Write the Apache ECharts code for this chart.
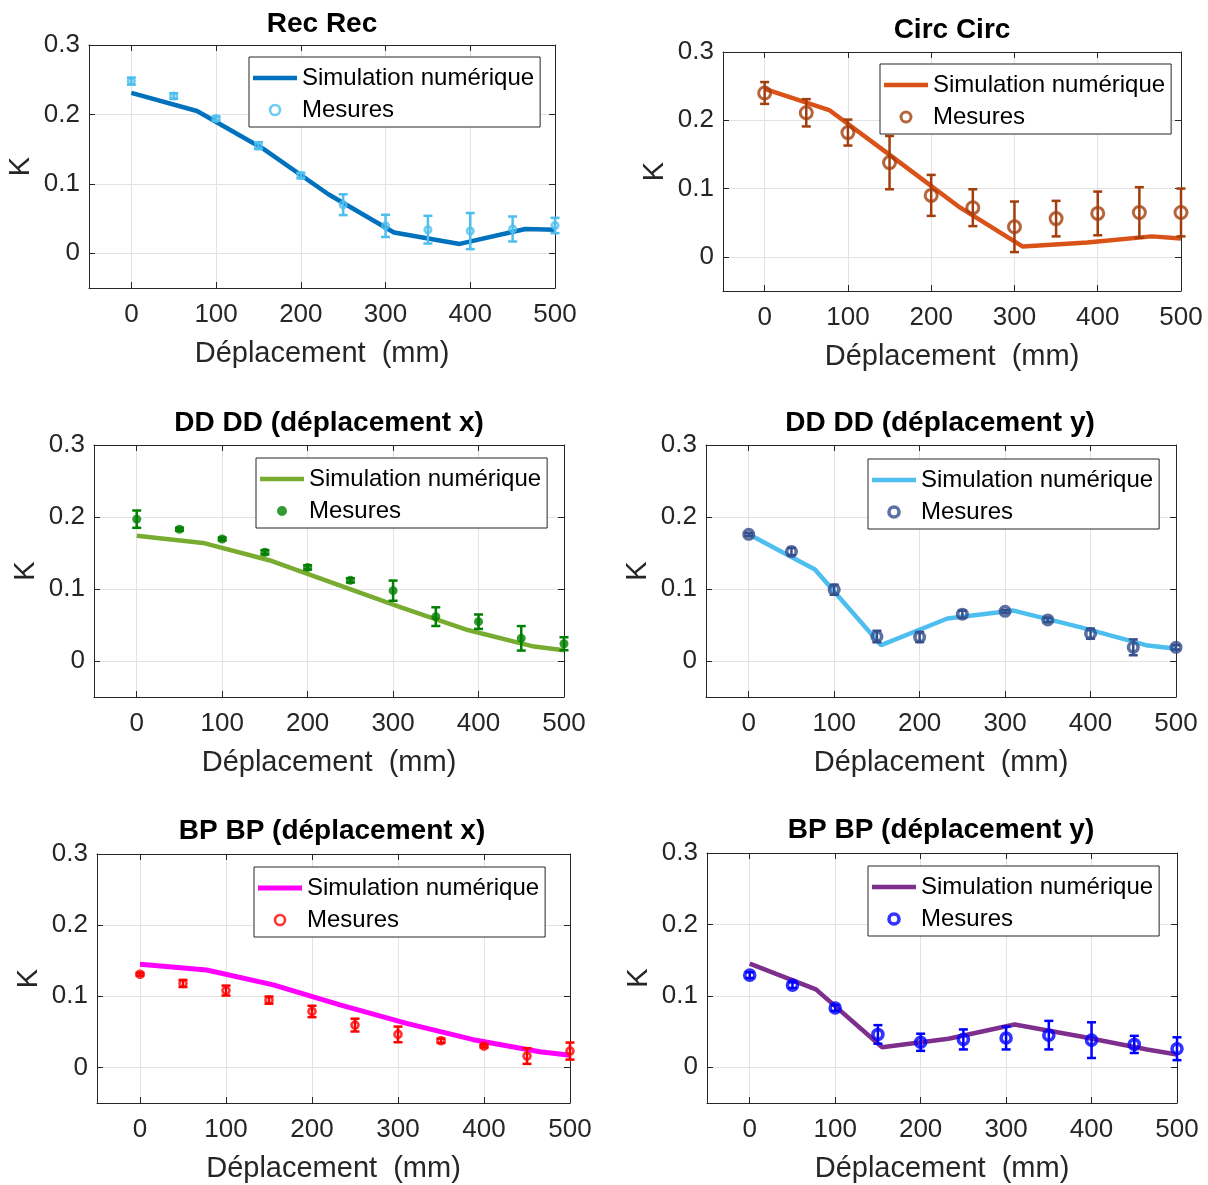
<!DOCTYPE html>
<html>
<head>
<meta charset="utf-8">
<script src="https://cdn.jsdelivr.net/npm/echarts@6/dist/echarts.min.js"></script>
<style>
  html, body { margin: 0; padding: 0; background: #fff; }
  #main { width: 1208px; height: 1185px; }
</style>
</head>
<body>
<div id="main"></div>
<script>
// abscisses communes
var simX = [0, 77.5, 155, 232.5, 310, 387.5, 465, 500]
var mesX = [0, 50, 100, 150, 200, 250, 300, 350, 400, 450, 500]
var xTicks = [0, 100, 200, 300, 400, 500]
var yTicks = [0, 0.1, 0.2, 0.3]

// Rec Rec
var recSim = [0.231, 0.205, 0.151, 0.085, 0.030, 0.0135, 0.035, 0.034]
var recMes = [0.248, 0.2265, 0.194, 0.155, 0.112, 0.070, 0.0395, 0.034, 0.032, 0.035, 0.040]
var recErr = [0.005, 0.004, 0.003, 0.005, 0.004, 0.015, 0.016, 0.020, 0.026, 0.018, 0.011]

// Circ Circ
var circSim = [0.246, 0.215, 0.145, 0.074, 0.015, 0.021, 0.030, 0.027]
var circMes = [0.240, 0.211, 0.182, 0.138, 0.090, 0.072, 0.044, 0.056, 0.0636, 0.065, 0.065]
var circErr = [0.016, 0.020, 0.019, 0.039, 0.030, 0.027, 0.037, 0.026, 0.032, 0.037, 0.035]

// DD DD (déplacement x)
var ddxSim = [0.174, 0.164, 0.140, 0.107, 0.074, 0.043, 0.020, 0.015]
var ddxMes = [0.197, 0.183, 0.1695, 0.151, 0.130, 0.112, 0.0977, 0.0616, 0.0546, 0.0315, 0.024]
var ddxErr = [0.012, 0.002, 0.002, 0.003, 0.003, 0.003, 0.014, 0.013, 0.010, 0.017, 0.009]

// DD DD (déplacement y)
var ddySim = [0.176, 0.127, 0.022, 0.059, 0.070, 0.047, 0.022, 0.017]
var ddyMes = [0.176, 0.152, 0.099, 0.034, 0.0333, 0.065, 0.069, 0.057, 0.038, 0.019, 0.019]
var ddyErr = [0.002, 0.005, 0.007, 0.008, 0.007, 0.005, 0.002, 0.003, 0.007, 0.011, 0.003]

// BP BP (déplacement x)
var bpxSim = [0.145, 0.137, 0.116, 0.088, 0.062, 0.039, 0.022, 0.017]
var bpxMes = [0.131, 0.118, 0.108, 0.0946, 0.0787, 0.0595, 0.0464, 0.0375, 0.030, 0.016, 0.023]
var bpxErr = [0.002, 0.005, 0.007, 0.005, 0.008, 0.009, 0.011, 0.003, 0.002, 0.011, 0.012]

// BP BP (déplacement y)
var bpySim = [0.145, 0.109, 0.028, 0.040, 0.060, 0.043, 0.025, 0.018]
var bpyMes = [0.129, 0.115, 0.083, 0.046, 0.035, 0.039, 0.041, 0.045, 0.038, 0.032, 0.026]
var bpyErr = [0.004, 0.004, 0.004, 0.013, 0.012, 0.014, 0.016, 0.020, 0.025, 0.012, 0.016]

var FONT = 'Liberation Sans, Arial, Helvetica, sans-serif'
var AXC = '#262626'

var panels = [
  { title: 'Rec Rec', sim: recSim, mes: recMes, err: recErr,
    line: '#0072BD', mark: '#4DBEEE', hollow: true, size: 6.5, bw: 2.6, lw: 4.5,
    grid: [89, 45, 466, 243], tpos: [322, 24], leg: [249, 57] },
  { title: 'Circ Circ', sim: circSim, mes: circMes, err: circErr,
    line: '#D95319', mark: '#A33E0C', hollow: true, size: 12, bw: 3, lw: 4.5,
    grid: [723, 52, 458, 239], tpos: [952, 30], leg: [880, 64] },
  { title: 'DD DD (déplacement x)', sim: ddxSim, mes: ddxMes, err: ddxErr,
    line: '#77AC30', mark: '#008000', hollow: false, size: 9, bw: 0, lw: 4.5,
    grid: [94, 445, 470, 252], tpos: [329, 423], leg: [256, 458] },
  { title: 'DD DD (déplacement y)', sim: ddySim, mes: ddyMes, err: ddyErr,
    line: '#4DBEEE', mark: '#344F8C', hollow: true, size: 9.5, bw: 3.6, lw: 4.5,
    grid: [706, 445, 470, 252], tpos: [940, 423], leg: [868, 459] },
  { title: 'BP BP (déplacement x)', sim: bpxSim, mes: bpxMes, err: bpxErr,
    line: '#FF00FF', mark: '#FF0000', hollow: true, size: 7, bw: 2.6, lw: 5,
    grid: [97, 854, 473, 249], tpos: [332, 831], leg: [254, 867] },
  { title: 'BP BP (déplacement y)', sim: bpySim, mes: bpyMes, err: bpyErr,
    line: '#7E2F8E', mark: '#0000FF', hollow: true, size: 10, bw: 3.6, lw: 4.5,
    grid: [707, 853, 470, 250], tpos: [941, 830], leg: [868, 866] },
]

var chart = echarts.init(document.getElementById('main'), null, { renderer: 'canvas' })

var grids = [], xAxes = [], yAxes = [], series = [], legends = [], graphics = []

panels.forEach(function (p, i) {
  grids.push({ left: p.grid[0], top: p.grid[1], width: p.grid[2], height: p.grid[3], containLabel: false })

  // axe du bas + axe du haut (boîte MATLAB)
  xAxes.push({
    gridIndex: i, type: 'value', min: -50, max: 500, position: 'bottom',
    axisLine: { show: true, onZero: false, lineStyle: { color: AXC, width: 1 } },
    axisTick: { show: true, inside: true, length: 6, customValues: xTicks, lineStyle: { color: AXC } },
    axisLabel: { customValues: xTicks, fontSize: 26, color: AXC, fontFamily: FONT, margin: 14 },
    splitLine: { show: true, lineStyle: { color: '#e3e3e3', width: 1 } },
    name: 'Déplacement  (mm)', nameLocation: 'middle', nameGap: 51,
    nameTextStyle: { fontSize: 29, color: AXC, fontFamily: FONT },
  })
  xAxes.push({
    gridIndex: i, type: 'value', min: -50, max: 500, position: 'top',
    axisLine: { show: true, onZero: false, lineStyle: { color: AXC, width: 1 } },
    axisTick: { show: true, inside: true, length: 6, customValues: xTicks, lineStyle: { color: AXC } },
    axisLabel: { show: false },
    splitLine: { show: false },
  })
  yAxes.push({
    gridIndex: i, type: 'value', min: -0.05, max: 0.3, position: 'left',
    axisLine: { show: true, onZero: false, lineStyle: { color: AXC, width: 1 } },
    axisTick: { show: true, inside: true, length: 6, customValues: yTicks, lineStyle: { color: AXC } },
    axisLabel: { customValues: yTicks, fontSize: 26, color: AXC, fontFamily: FONT, margin: 9,
      formatter: function (v) { return v === 0 ? '0' : v.toFixed(1) } },
    splitLine: { show: true, lineStyle: { color: '#e3e3e3', width: 1 } },
    name: 'K', nameLocation: 'middle', nameGap: 54, nameRotate: 90,
    nameTextStyle: { fontSize: 29, color: AXC, fontFamily: FONT },
  })
  yAxes.push({
    gridIndex: i, type: 'value', min: -0.05, max: 0.3, position: 'right',
    axisLine: { show: true, onZero: false, lineStyle: { color: AXC, width: 1 } },
    axisTick: { show: true, inside: true, length: 6, customValues: yTicks, lineStyle: { color: AXC } },
    axisLabel: { show: false },
    splitLine: { show: false },
  })

  var xi = 2 * i, yi = 2 * i

  series.push({
    name: 'sim' + i, type: 'line', xAxisIndex: xi, yAxisIndex: yi,
    data: simX.map(function (x, k) { return [x, p.sim[k]] }),
    symbol: 'none', color: p.line,
    lineStyle: { color: p.line, width: p.lw },
    z: 2,
  })

  var ebColor = p.mark
  series.push({
    name: 'err' + i, type: 'custom', xAxisIndex: xi, yAxisIndex: yi,
    data: mesX.map(function (x, k) { return [x, p.mes[k], p.err[k]] }),
    encode: { x: 0, y: 1 },
    z: 3,
    renderItem: function (params, api) {
      var x = api.value(0), y = api.value(1), e = api.value(2)
      var hi = api.coord([x, y + e]), lo = api.coord([x, y - e])
      var hw = 4.5
      var st = { stroke: ebColor, lineWidth: 2.5 }
      return {
        type: 'group',
        children: [
          { type: 'line', shape: { x1: hi[0], y1: hi[1], x2: lo[0], y2: lo[1] }, style: st },
          { type: 'line', shape: { x1: hi[0] - hw, y1: hi[1], x2: hi[0] + hw, y2: hi[1] }, style: st },
          { type: 'line', shape: { x1: lo[0] - hw, y1: lo[1], x2: lo[0] + hw, y2: lo[1] }, style: st },
        ],
      }
    },
  })

  var markStyle = p.hollow
    ? { color: 'rgba(255,255,255,0)', borderColor: p.mark, borderWidth: p.bw }
    : { color: p.mark, borderWidth: 0 }

  series.push({
    name: 'mes' + i, type: 'scatter', xAxisIndex: xi, yAxisIndex: yi,
    data: mesX.map(function (x, k) { return [x, p.mes[k]] }),
    symbol: 'circle', symbolSize: p.size, color: p.mark,
    itemStyle: markStyle,
    z: 4,
  })

  legends.push({
    left: p.leg[0], top: p.leg[1], orient: 'vertical',
    data: [
      { name: 'sim' + i, icon: 'path://M0,0 H44 V' + p.lw + ' H0 Z', itemStyle: { color: p.line } },
      { name: 'mes' + i, icon: 'circle', itemStyle: markStyle },
    ],
    formatter: function (n) { return n.indexOf('sim') === 0 ? 'Simulation numérique' : 'Mesures' },
    itemWidth: 44, itemHeight: 10, itemGap: 8, symbolKeepAspect: true,
    textStyle: { fontSize: 24, color: '#000', fontFamily: FONT },
    borderColor: AXC, borderWidth: 1, padding: [9, 6, 5, 4],
    backgroundColor: '#fff', selectedMode: false,
  })

  graphics.push({
    type: 'text', x: p.tpos[0], y: p.tpos[1],
    style: { text: p.title, fontSize: 28, fontWeight: 'bold', fontFamily: FONT,
      fill: '#000', align: 'center', verticalAlign: 'middle' },
  })
})

var option = {
  animation: false,
  backgroundColor: '#fff',
  grid: grids,
  xAxis: xAxes,
  yAxis: yAxes,
  legend: legends,
  series: series,
  graphic: graphics,
}
chart.setOption(option)

window.addEventListener('resize', function () {
  chart.resize()
})
</script>
</body>
</html>
